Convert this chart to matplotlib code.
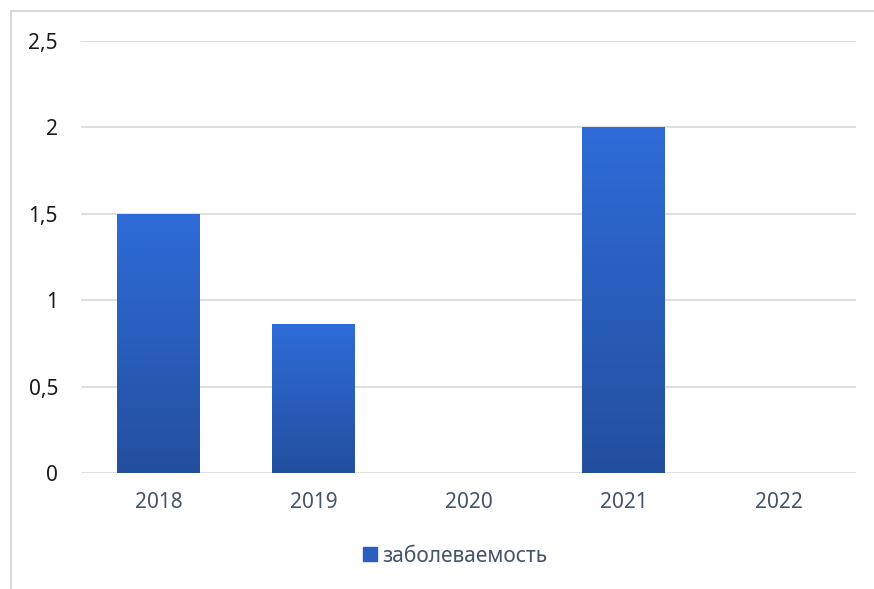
import numpy as np
import matplotlib.pyplot as plt
from matplotlib.colors import LinearSegmentedColormap
from matplotlib.lines import Line2D

years = ['2018', '2019', '2020', '2021', '2022']
values = [1.5, 0.86, 0, 2.0, 0]
yticks = [0, 0.5, 1, 1.5, 2, 2.5]
ytick_labels = ['0', '0,5', '1', '1,5', '2', '2,5']
legend_label = 'заболеваемость'

plt.rcParams['font.family'] = ['Noto Sans', 'DejaVu Sans']

fig = plt.figure(figsize=(8.74, 5.89), dpi=100)
ax = fig.add_axes([81 / 874, 1 - 473 / 589, 775 / 874, 432 / 589])

# gradient: lighter on top, darker at the bottom
cmap = LinearSegmentedColormap.from_list('bluegrad', ['#234f9e', '#2f6cd8'])
grad = np.linspace(0, 1, 256).reshape(-1, 1)

x = np.arange(len(years))
bars = ax.bar(x, values, width=0.53, color='#2a5fc0', zorder=2)
for b in bars:
    h = b.get_height()
    if h <= 0:
        continue
    x0 = b.get_x()
    w = b.get_width()
    im = ax.imshow(grad, cmap=cmap, aspect='auto', origin='lower',
                   extent=[x0, x0 + w, 0, h], zorder=3)
    im.set_clip_path(b)

ax.set_xlim(-0.5, len(years) - 0.5)
ax.set_ylim(0, 2.5)
ax.set_xticks(x)
ax.set_xticklabels(years, fontsize=15, color='#44546a')
ax.set_yticks(yticks)
ax.set_yticklabels(ytick_labels, fontsize=15, color='#1a1a1a')
ax.tick_params(length=0)
ax.tick_params(axis='x', pad=14)
ax.tick_params(axis='y', pad=16.5)
ax.grid(axis='y', color='#d9d9d9', linewidth=1.2, zorder=0)
ax.set_axisbelow(True)
for s in ax.spines.values():
    s.set_visible(False)

handle = Line2D([], [], marker='s', linestyle='none', markersize=10,
                markerfacecolor='#2a5fc0', markeredgecolor='#2a5fc0')
fig.legend([handle], [legend_label], loc='center', bbox_to_anchor=(0.519, 1 - 556 / 589),
           frameon=False, fontsize=15, labelcolor='#44546a', handletextpad=0.1,
           handlelength=1.0)

# chart border (top and left visible)
fig.add_artist(Line2D([10.5 / 874, 10.5 / 874], [0, 1 - 11 / 589], color='#d9d9d9', linewidth=1.5))
fig.add_artist(Line2D([10.5 / 874, 1], [1 - 11 / 589, 1 - 11 / 589], color='#d9d9d9', linewidth=1.5))

fig.savefig('out.png', dpi=100)
